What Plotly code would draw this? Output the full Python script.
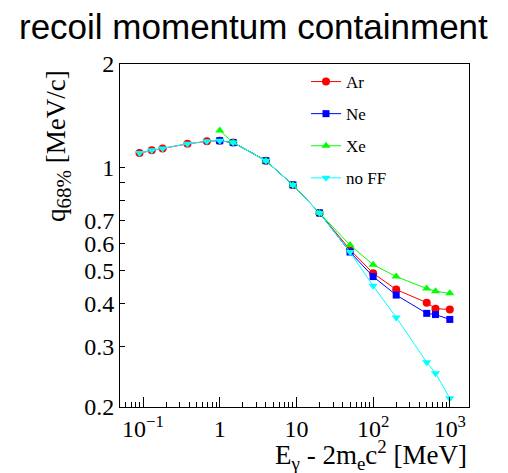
import plotly.graph_objects as go

# ---- data ----
x_all = [0.09, 0.13, 0.18, 0.38, 0.68, 1.0, 1.5, 4, 9, 20, 50, 100, 200, 500, 650, 1000]
x_hi = [1.0, 1.5, 4, 9, 20, 50, 100, 200, 500, 650, 1000]

ar = [1.10, 1.12, 1.135, 1.17, 1.19, 1.195, 1.18, 1.045, 0.888, 0.736, 0.575, 0.491, 0.440, 0.403, 0.387, 0.385]
ne = [1.195, 1.18, 1.045, 0.888, 0.736, 0.566, 0.480, 0.424, 0.375, 0.372, 0.360]
xe = [1.28, 1.18, 1.045, 0.888, 0.736, 0.593, 0.520, 0.480, 0.443, 0.435, 0.429]
noff = [1.10, 1.12, 1.135, 1.17, 1.19, 1.195, 1.18, 1.045, 0.888, 0.736, 0.566, 0.451, 0.365, 0.270, 0.251, 0.212]

x_ticks = [0.1, 1, 10, 100, 1000]
x_ticktext = ["10<sup>\u22121</sup>", "1", "10", "10<sup>2</sup>", "10<sup>3</sup>"]
y_ticks = [0.2, 0.3, 0.4, 0.5, 0.6, 0.7, 1, 2]
y_ticktext = ["0.2", "0.3", "0.4", "0.5", "0.6", "0.7", "1", "2"]
y_minor = [0.8, 0.9]

SERIF = "Liberation Serif"
W, H = 508, 473
L, R, T, B = 120, 39, 64, 66
pw, ph = W - L - R, H - T - B

def px_x(p):
    return (p - L) / pw

def px_y(p):
    return (H - B - p) / ph

series = [
    ("Ar", x_all, ar, "#ff0000", "circle", 8),
    ("Ne", x_hi, ne, "#0000ff", "square", 7),
    ("Xe", x_hi, xe, "#00ff00", "triangle-up", 8),
    ("no FF", x_all, noff, "#00ffff", "triangle-down", 8),
]

fig = go.Figure()
for name, xs, ys, col, sym, sz in series:
    fig.add_trace(go.Scatter(
        x=xs, y=ys, name=name, mode="lines+markers", legendgroup=name,
        line=dict(color=col, width=1),
        marker=dict(color=col, symbol=sym, size=sz, line=dict(width=0)),
    ))

x_minor = [m * 10 ** e for e in range(-2, 4) for m in range(2, 10)]

fig.update_layout(
    width=W, height=H,
    margin=dict(l=L, r=R, t=T, b=B),
    paper_bgcolor="white", plot_bgcolor="white",
    showlegend=True,
    legend=dict(
        x=px_x(306), y=px_y(64), xanchor="left", yanchor="top",
        font=dict(family=SERIF, size=17, color="black"),
        bgcolor="rgba(0,0,0,0)", tracegroupgap=7, itemwidth=30,
    ),
    xaxis=dict(
        type="log", range=[-1.3, 3.25],
        tickmode="array", tickvals=x_ticks, ticktext=x_ticktext,
        ticks="inside", ticklen=10, tickcolor="black", tickwidth=1,
        minor=dict(tickmode="array", tickvals=x_minor, ticks="inside", ticklen=5,
                   tickcolor="black", tickwidth=1, showgrid=False),
        showline=True, linecolor="black", linewidth=1, mirror=True,
        showgrid=False, zeroline=False,
        tickfont=dict(family=SERIF, size=24, color="black"),
    ),
    yaxis=dict(
        type="log", range=[-0.69897, 0.30103],
        tickmode="array", tickvals=y_ticks, ticktext=y_ticktext,
        ticks="inside", ticklen=5, tickcolor="black", tickwidth=1,
        minor=dict(tickmode="array", tickvals=y_minor, ticks="inside", ticklen=5,
                   tickcolor="black", tickwidth=1, showgrid=False),
        showline=True, linecolor="black", linewidth=1, mirror=True,
        showgrid=False, zeroline=False,
        tickfont=dict(family=SERIF, size=24, color="black"),
    ),
    yaxis2=dict(
        type="log", range=[-0.69897, 0.30103], overlaying="y", side="left",
        tickmode="array", tickvals=[1], showticklabels=False,
        ticks="inside", ticklen=11, tickcolor="black", tickwidth=1,
        showline=False, showgrid=False, zeroline=False,
    ),
    annotations=[
        dict(text="recoil momentum containment", xref="paper", yref="paper",
             x=px_x(253), y=px_y(27), xanchor="center", yanchor="middle",
             showarrow=False, font=dict(family="Liberation Sans", size=35, color="black")),
        dict(text="E<sub><span style=\"font-size:19px\">\u03b3</span></sub> - 2m<sub><span style=\"font-size:19px\">e</span></sub>c<sup><span style=\"font-size:19px\">2</span></sup> [MeV]",
             xref="paper", yref="paper",
             x=px_x(469), y=px_y(455), xanchor="right", yanchor="middle",
             showarrow=False, font=dict(family=SERIF, size=27, color="black")),
        dict(text="q<sub><span style=\"font-size:21px\">68%</span></sub> [MeV/c]", xref="paper", yref="paper",
             x=px_x(58), y=px_y(146), xanchor="center", yanchor="middle", textangle=-90,
             showarrow=False, font=dict(family=SERIF, size=27, color="black")),
    ],
)

fig.write_html("out.html")
